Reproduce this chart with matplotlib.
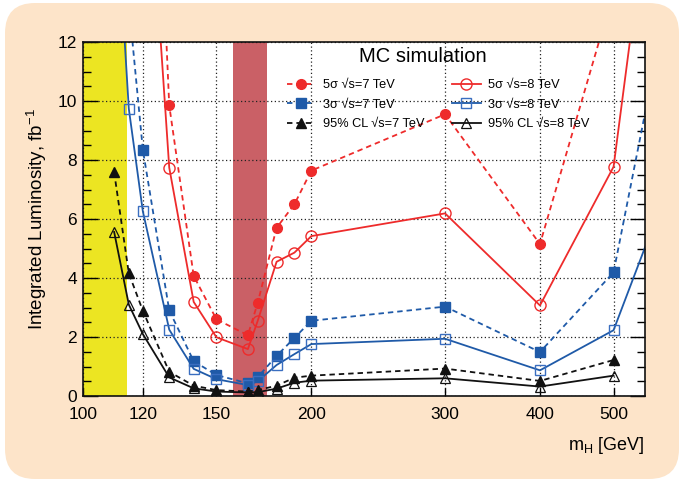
import numpy as np
import matplotlib
matplotlib.use("Agg")
import matplotlib.pyplot as plt
from matplotlib.patches import FancyBboxPatch
from matplotlib.transforms import IdentityTransform
from matplotlib.ticker import FixedLocator, MultipleLocator, NullFormatter, NullLocator

plt.rcParams['font.family'] = ['Liberation Sans', 'DejaVu Sans']
plt.rcParams['mathtext.default'] = 'regular'

# ---------------- data ----------------
m_5s7 = [120, 130, 140, 150, 165, 170, 180, 190, 200, 300, 400, 500]
v_5s7 = [30.0, 9.85, 4.07, 2.60, 2.06, 3.16, 5.70, 6.50, 7.64, 9.55, 5.15, 13.7]

m_5s8 = [120, 130, 140, 150, 165, 170, 180, 190, 200, 300, 400, 500, 600]
v_5s8 = [21.0, 7.74, 3.19, 1.99, 1.59, 2.55, 4.55, 4.86, 5.42, 6.19, 3.07, 7.77, 23.4]

m_3s7 = [115, 120, 130, 140, 150, 165, 170, 180, 190, 200, 300, 400, 500, 600]
v_3s7 = [13.3, 8.35, 2.90, 1.18, 0.71, 0.43, 0.64, 1.36, 1.97, 2.55, 3.03, 1.49, 4.19, 14.5]

m_3s8 = [110, 115, 120, 130, 140, 150, 165, 170, 180, 190, 200, 300, 400, 500, 600]
v_3s8 = [17.9, 9.74, 6.26, 2.25, 0.92, 0.57, 0.37, 0.50, 1.05, 1.42, 1.76, 1.94, 0.87, 2.23, 7.6]

m_cl7 = [110, 115, 120, 130, 140, 150, 165, 170, 180, 190, 200, 300, 400, 500]
v_cl7 = [7.59, 4.16, 2.89, 0.82, 0.35, 0.20, 0.15, 0.20, 0.35, 0.62, 0.69, 0.93, 0.51, 1.22]

m_cl8 = [110, 115, 120, 130, 140, 150, 165, 170, 180, 190, 200, 300, 400, 500]
v_cl8 = [5.56, 3.10, 2.10, 0.63, 0.26, 0.15, 0.12, 0.13, 0.25, 0.45, 0.52, 0.60, 0.32, 0.69]

lep_band = (100, 114.4)
tev_band = (157.7, 174.8)

x_ticks = [100, 120, 150, 200, 300, 400, 500]
y_ticks = [0, 2, 4, 6, 8, 10, 12]

labels_7 = ["5σ √s=7 TeV", "3σ √s=7 TeV", "95% CL √s=7 TeV"]
labels_8 = ["5σ √s=8 TeV", "3σ √s=8 TeV", "95% CL √s=8 TeV"]

# ---------------- figure ----------------
W, H = 681, 480
fig = plt.figure(figsize=(W / 100, H / 100), dpi=100)
fig.patch.set_facecolor('white')

bg = FancyBboxPatch((5, 1), 674, 476,
                    boxstyle="round,pad=0,rounding_size=30",
                    transform=IdentityTransform(), facecolor='#FDE4C9',
                    edgecolor='none', zorder=-10)
fig.patches.append(bg)

L, R, T, B = 82.7, 645, 42, 396
ax = fig.add_axes([L / W, 1 - B / H, (R - L) / W, (B - T) / H])
ax.set_facecolor('white')

ax.set_xscale('log')
ax.set_xlim(100, 550)
ax.set_ylim(0, 12)

ax.axvspan(*lep_band, color='#ECE522', lw=0, zorder=0.2)
ax.axvspan(*tev_band, color='#CA6066', lw=0, zorder=0.2)

RED = '#EE2B2B'
BLUE = '#1F5AA8'
BLK = '#111111'
dash = (0, (3, 2.2))
lw = 1.3

h1, = ax.plot(m_5s7, v_5s7, linestyle=dash, color=RED, lw=lw, marker='o', ms=7,
              mfc=RED, mec=RED, zorder=3)
h2, = ax.plot(m_5s8, v_5s8, linestyle='-', color=RED, lw=lw, marker='o', ms=8,
              mfc='none', mec=RED, mew=1.0, zorder=3)
h3, = ax.plot(m_3s7, v_3s7, linestyle=dash, color=BLUE, lw=lw, marker='s', ms=7,
              mfc=BLUE, mec=BLUE, zorder=3)
h4, = ax.plot(m_3s8, v_3s8, linestyle='-', color=BLUE, lw=lw, marker='s', ms=7.5,
              mfc='none', mec='#3A6EC0', mew=1.0, zorder=3)
h5, = ax.plot(m_cl7, v_cl7, linestyle=dash, color=BLK, lw=lw, marker='^', ms=7,
              mfc=BLK, mec=BLK, zorder=3)
h6, = ax.plot(m_cl8, v_cl8, linestyle='-', color=BLK, lw=lw, marker='^', ms=7.5,
              mfc='none', mec=BLK, mew=0.9, zorder=3)

# ticks & grid
ax.xaxis.set_major_locator(FixedLocator(x_ticks))
ax.xaxis.set_minor_locator(NullLocator())
ax.xaxis.set_minor_formatter(NullFormatter())
ax.set_xticklabels([str(v) for v in x_ticks])
ax.yaxis.set_major_locator(FixedLocator(y_ticks))
ax.yaxis.set_minor_locator(MultipleLocator(0.5))

ax.tick_params(axis='y', which='major', direction='in', length=11, width=1.0,
               left=True, right=True, labelsize=12.5, pad=4)
ax.tick_params(axis='y', which='minor', direction='in', length=6, width=1.0,
               left=True, right=True)
ax.tick_params(axis='x', which='major', direction='in', length=6, width=1.0,
               bottom=True, top=False, labelsize=12.5, pad=8)

ax.set_axisbelow(True)
ax.grid(True, which='major', color='#222222', linestyle=(0, (1, 2)), lw=0.9)

for s in ax.spines.values():
    s.set_linewidth(1.2)
    s.set_color('#111111')
    s.set_zorder(5)

ax.set_ylabel("Integrated Luminosity, fb$^{-1}$", fontsize=13.5, labelpad=6)
fig.text(R / W, 1 - 446 / H, "m$_H$ [GeV]", ha='right', va='center', fontsize=13)

fig.text(422.5 / W, 1 - 57 / H, "MC simulation", ha='center', va='center', fontsize=14.5)

leg = ax.legend([h1, h3, h5, h2, h4, h6], labels_7 + labels_8, ncol=2, frameon=False,
                loc='upper left', bbox_to_anchor=((287 - L) / (R - L), (B - 79) / (B - T)),
                fontsize=9.2, handlelength=2.2, handletextpad=0.6,
                columnspacing=2.2, labelspacing=0.6, borderpad=0, borderaxespad=0)

fig.savefig("out.png", dpi=100)
